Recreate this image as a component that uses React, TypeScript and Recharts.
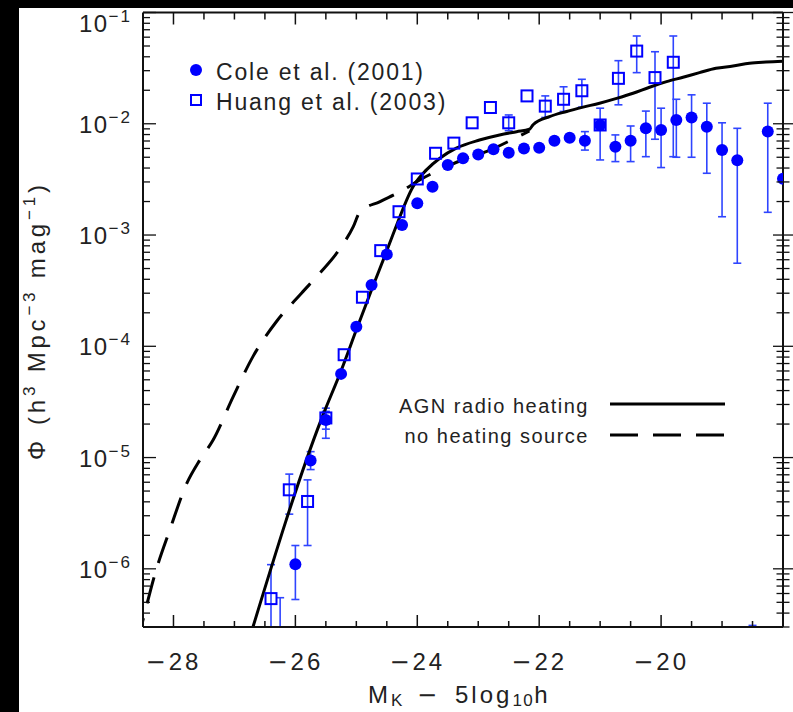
import React from 'react';
import { ComposedChart, XAxis, YAxis, Scatter, Line, ErrorBar } from 'recharts';

// ---------------- data ----------------
// Cole et al. (2001) – filled circles (null = no visible error bar)
const coleX = [-26.25, -26.0, -25.75, -25.5, -25.25, -25.0, -24.75, -24.5, -24.25, -24.0, -23.75, -23.5, -23.25, -23.0, -22.75, -22.5, -22.25, -22.0, -21.75, -21.5, -21.25, -21.0, -20.75, -20.5, -20.25, -20.0, -19.75, -19.5, -19.25, -19.0, -18.75, -18.5, -18.25, -18.0];
const coleY = [1.5e-7, 1.1e-6, 9.4e-6, 2.18e-5, 5.65e-5, 1.5e-4, 3.56e-4, 6.7e-4, 1.23e-3, 1.93e-3, 2.72e-3, 4.26e-3, 4.9e-3, 5.3e-3, 5.9e-3, 5.5e-3, 6.0e-3, 6.1e-3, 7.05e-3, 7.5e-3, 7.05e-3, 9.75e-3, 6.2e-3, 7.05e-3, 9.1e-3, 8.8e-3, 1.08e-2, 1.14e-2, 9.4e-3, 5.8e-3, 4.7e-3, 1.0e-7, 8.5e-3, 3.2e-3];
const coleLo = [1e-8, 5.3e-7, 7.8e-6, 1.8e-5, null, null, null, null, null, null, null, null, null, null, null, null, null, null, null, null, 5.8e-3, 4.73e-3, 4.57e-3, 4.57e-3, 5.06e-3, 4.04e-3, 5.0e-3, 5.0e-3, 3.59e-3, 1.46e-3, 5.58e-4, 1e-8, 1.6e-3, null];
const coleHi = [5.5e-7, 1.62e-6, 1.13e-5, 2.6e-5, null, null, null, null, null, null, null, null, null, null, null, null, null, null, null, null, 8.5e-3, 1.38e-2, 7.94e-3, 9.55e-3, 1.3e-2, 1.38e-2, 1.66e-2, 1.82e-2, 1.53e-2, 1.02e-2, 9.1e-3, 3.1e-7, 1.53e-2, null];

// Huang et al. (2003) – open squares
const huangX = [-26.4, -26.1, -25.8, -25.5, -25.2, -24.9, -24.6, -24.3, -24.0, -23.7, -23.4, -23.1, -22.8, -22.5, -22.2, -21.9, -21.6, -21.3, -21.0, -20.7, -20.4, -20.1, -19.8];
const huangY = [5.4e-7, 5.13e-6, 4.03e-6, 2.27e-5, 8.4e-5, 2.76e-4, 7.24e-4, 1.62e-3, 3.19e-3, 5.43e-3, 6.7e-3, 1.02e-2, 1.4e-2, 1.02e-2, 1.78e-2, 1.44e-2, 1.66e-2, 1.98e-2, 9.75e-3, 2.56e-2, 4.5e-2, 2.6e-2, 3.57e-2];
const huangLo = [1e-8, 3.1e-6, 1.62e-6, 1.49e-5, null, null, null, null, null, null, null, null, null, 8.67e-3, null, 1.14e-2, 1.29e-2, 1.41e-2, null, 1.48e-2, 2.88e-2, 7.26e-3, 5.06e-3];
const huangHi = [1.09e-6, 7.1e-6, 6.3e-6, 2.78e-5, null, null, null, null, null, null, null, null, null, 1.2e-2, null, 1.78e-2, 2.15e-2, 2.51e-2, null, 3.69e-2, 6.15e-2, 4.44e-2, 6.15e-2];

// AGN radio heating model (solid)
const agnX = [-26.75, -25.57, -25.25, -24.99, -24.72, -24.52, -24.37, -24.07, -23.85, -23.63, -23.36, -22.98, -22.65, -22.37, -22.16, -22.1, -21.83, -21.55, -21.28, -21.01, -20.73, -20.46, -20.19, -19.91, -19.64, -19.37, -19.1, -18.82, -18.55, -18.28, -18.0];
const agnY = [2.4e-7, 2.24e-5, 6.03e-5, 1.45e-4, 3.55e-4, 6.76e-4, 1.11e-3, 2.72e-3, 3.85e-3, 4.9e-3, 6.03e-3, 7.14e-3, 7.94e-3, 8.49e-3, 8.93e-3, 9.8e-3, 1.16e-2, 1.29e-2, 1.41e-2, 1.53e-2, 1.69e-2, 1.88e-2, 2.13e-2, 2.39e-2, 2.62e-2, 2.88e-2, 3.15e-2, 3.3e-2, 3.5e-2, 3.59e-2, 3.65e-2];

// no heating source model (dashed)
const noHeatX = [-28.6, -28.5, -28.3, -28.06, -27.78, -27.565, -27.35, -27.02, -26.69, -26.31, -25.9, -25.6, -25.32, -25.05, -24.94, -24.61, -24.23, -23.96, -23.58, -23.19, -22.87, -22.4, -22.16];
const noHeatY = [2.1e-7, 3.48e-7, 9.14e-7, 2.24e-6, 5.89e-6, 9.55e-6, 1.44e-5, 3.53e-5, 8.2e-5, 1.67e-4, 3.0e-4, 4.54e-4, 6.9e-4, 1.19e-3, 1.62e-3, 2.0e-3, 2.54e-3, 3.13e-3, 3.98e-3, 4.9e-3, 5.61e-3, 7.41e-3, 8.61e-3];

// ticks
const xTicks = [-28, -27.5, -27, -26.5, -26, -25.5, -25, -24.5, -24, -23.5, -23, -22.5, -22, -21.5, -21, -20.5, -20, -19.5, -19, -18.5];
const xMajorTicks = [-28, -26, -24, -22, -20];
const yDecades = [-7, -6, -5, -4, -3, -2, -1];
const yMajorExponents = ['\u22126', '\u22125', '\u22124', '\u22123', '\u22122', '\u22121'];
const yMajorTicks = [1e-6, 1e-5, 1e-4, 1e-3, 1e-2, 1e-1];
const yMultipliers = [1, 2, 3, 4, 5, 6, 7, 8, 9];

const X_DOMAIN: [number, number] = [-28.5, -18];
const Y_DOMAIN: [number, number] = [3e-7, 0.1];

// ---------------- helpers ----------------
type Pt = { x: number; y: number; err?: [number, number] };
const buildPoints = (xs: number[], ys: number[], lo: (number | null)[], hi: (number | null)[]) => {
  const withBars: Pt[] = [];
  const noBars: Pt[] = [];
  xs.forEach((x, i) => {
    const l = lo[i];
    const h = hi[i];
    if (l != null && h != null) {
      // error bars are cut at the bottom of the plot frame
      const lowEnd = Math.max(l, Y_DOMAIN[0]);
      withBars.push({ x, y: ys[i], err: [ys[i] - lowEnd, h - ys[i]] });
    } else noBars.push({ x, y: ys[i] });
  });
  return { withBars, noBars };
};
const cole = buildPoints(coleX, coleY, coleLo, coleHi);
const huang = buildPoints(huangX, huangY, huangLo, huangHi);
const agnData = agnX.map((x, i) => ({ x, y: agnY[i] }));
const noHeatData = noHeatX.map((x, i) => ({ x, y: noHeatY[i] }));

const yTicks: number[] = [];
yDecades.forEach((k) => {
  yMultipliers.forEach((m) => {
    const v = Number((m * Math.pow(10, k)).toPrecision(3));
    if (v >= Y_DOMAIN[0] && v <= Y_DOMAIN[1]) yTicks.push(v);
  });
});

const FONT = '"Liberation Sans", Arial, sans-serif';
const MINUS_FONT = '"DejaVu Sans", sans-serif';
const TEXT = '#222';
const AXIS = '#111';
const BLUE = '#0000ff';
const BAR_BLUE = '#2f45ff';

const isXMajor = (v: number) => xMajorTicks.some((t) => Math.abs(t - v) < 1e-9);
const yMajorIndex = (v: number) => yMajorTicks.findIndex((t) => Math.abs(t - v) / t < 1e-6);

const BottomTick = (props: any) => {
  const { x, y, payload } = props;
  const v = payload.value as number;
  const major = isXMajor(v);
  return (
    <g>
      <line x1={x} y1={y} x2={x} y2={y - (major ? 12 : 6)} stroke={AXIS} strokeWidth={1.5} />
      {major && (
        <text x={x} y={y + 43} textAnchor="middle" fontFamily={FONT} fontSize={24} fill={TEXT} letterSpacing={3}>
          <tspan fontFamily={MINUS_FONT}>{'\u2212'}</tspan>
          {String(Math.abs(v))}
        </text>
      )}
    </g>
  );
};

const TopTick = (props: any) => {
  const { x, y, payload } = props;
  const major = isXMajor(payload.value);
  return <line x1={x} y1={y} x2={x} y2={y + (major ? 12 : 7)} stroke={AXIS} strokeWidth={1.5} />;
};

const LeftTick = (props: any) => {
  const { x, y, payload } = props;
  const idx = yMajorIndex(payload.value);
  const major = idx >= 0;
  return (
    <g>
      <line x1={x} y1={y} x2={x + (major ? 13 : 7)} y2={y} stroke={AXIS} strokeWidth={1.3} />
      {major && (
        <text x={x - 11} y={Math.max(y + 9, 32)} textAnchor="end" fontFamily={FONT} fontSize={24} fill={TEXT} letterSpacing={1.5}>
          <tspan>10</tspan>
          <tspan dy={-10} fontSize={17} letterSpacing={2}>
            {yMajorExponents[idx]}
          </tspan>
        </text>
      )}
    </g>
  );
};

const RightTick = (props: any) => {
  const { x, y, payload } = props;
  const major = yMajorIndex(payload.value) >= 0;
  const h = major ? 10 : 6.5;
  return <line x1={x - h} y1={y} x2={x + h} y2={y} stroke={AXIS} strokeWidth={1.3} />;
};

const CircleShape = (p: any) => <circle cx={p.cx} cy={p.cy} r={6} fill={BLUE} />;
const SquareShape = (p: any) => (
  <rect x={p.cx - 5.5} y={p.cy - 5.5} width={11} height={11} fill="none" stroke={BLUE} strokeWidth={2} />
);

export default function App() {
  return (
    <div style={{ position: 'absolute', left: 0, top: 0, width: 793, height: 712, background: '#fff', overflow: 'hidden' }}>
      <ComposedChart width={793} height={712} margin={{ top: 8.5, right: 0, bottom: 45, left: 83 }}>
        <XAxis
          dataKey="x"
          type="number"
          domain={X_DOMAIN}
          allowDataOverflow
          ticks={xTicks}
          interval={0}
          height={40}
          tickSize={0}
          tickMargin={0}
          tickLine={false}
          axisLine={{ stroke: AXIS, strokeWidth: 2 }}
          tick={<BottomTick />}
        />
        <XAxis
          xAxisId="top"
          orientation="top"
          dataKey="x"
          type="number"
          domain={X_DOMAIN}
          allowDataOverflow
          ticks={xTicks}
          interval={0}
          height={4}
          tickSize={0}
          tickMargin={0}
          tickLine={false}
          axisLine={{ stroke: AXIS, strokeWidth: 2 }}
          tick={<TopTick />}
        />
        <YAxis
          dataKey="y"
          type="number"
          scale="log"
          domain={Y_DOMAIN}
          allowDataOverflow
          ticks={yTicks}
          interval={0}
          width={60}
          tickSize={0}
          tickMargin={0}
          tickLine={false}
          axisLine={{ stroke: AXIS, strokeWidth: 2 }}
          tick={<LeftTick />}
        />
        <YAxis
          yAxisId="right"
          orientation="right"
          type="number"
          scale="log"
          domain={Y_DOMAIN}
          allowDataOverflow
          ticks={yTicks}
          interval={0}
          width={10}
          tickSize={0}
          tickMargin={0}
          tickLine={false}
          axisLine={{ stroke: AXIS, strokeWidth: 2 }}
          tick={<RightTick />}
        />

        <Scatter data={cole.withBars} dataKey="y" shape={<CircleShape />} isAnimationActive={false}>
          <ErrorBar dataKey="err" direction="y" width={4} stroke={BAR_BLUE} strokeWidth={1.6} isAnimationActive={false} />
        </Scatter>
        <Scatter data={cole.noBars} dataKey="y" shape={<CircleShape />} isAnimationActive={false} />
        <Scatter data={huang.withBars} dataKey="y" shape={<SquareShape />} isAnimationActive={false}>
          <ErrorBar dataKey="err" direction="y" width={4} stroke={BAR_BLUE} strokeWidth={1.6} isAnimationActive={false} />
        </Scatter>
        <Scatter data={huang.noBars} dataKey="y" shape={<SquareShape />} isAnimationActive={false} />

        <Line data={noHeatData} dataKey="y" type="monotone" stroke="#000" strokeWidth={3} strokeDasharray="27 15" dot={false} activeDot={false} isAnimationActive={false} />
        <Line data={agnData} dataKey="y" type="monotone" stroke="#000" strokeWidth={3} dot={false} activeDot={false} isAnimationActive={false} />
      </ComposedChart>

      {/* titles and legends */}
      <svg width={793} height={712} style={{ position: 'absolute', left: 0, top: 0, pointerEvents: 'none' }}>
        <text y={703} fontFamily={FONT} fontSize={24} fill={TEXT} letterSpacing={3}>
          <tspan x={368}>M</tspan>
          <tspan fontSize={17} dy={3}>K</tspan>
          <tspan x={417} dy={-3} fontFamily={MINUS_FONT}>{'\u2212'}</tspan>
          <tspan x={455}>5log</tspan>
          <tspan fontSize={17} dy={3} letterSpacing={1.5}>10</tspan>
          <tspan dy={-3}>h</tspan>
        </text>

        <text transform="translate(45,460) rotate(-90)" fontFamily={FONT} fontSize={24} fill={TEXT} letterSpacing={3.8}>
          <tspan>{'\u03a6'}</tspan>
          <tspan dx={12}>(h</tspan>
          <tspan fontSize={17} dy={-10}>3</tspan>
          <tspan dy={10}> Mpc</tspan>
          <tspan fontSize={17} dy={-10}>{'\u22123'}</tspan>
          <tspan dy={10}> mag</tspan>
          <tspan fontSize={17} dy={-10}>{'\u22121'}</tspan>
          <tspan dy={10}>)</tspan>
        </text>

        <circle cx={196} cy={70} r={6} fill={BLUE} />
        <text x={216} y={80} fontFamily={FONT} fontSize={23} fill={TEXT} letterSpacing={1.8}>Cole et al. (2001)</text>
        <rect x={191} y={95} width={10} height={10} fill="none" stroke={BLUE} strokeWidth={2} />
        <text x={216} y={110} fontFamily={FONT} fontSize={23} fill={TEXT} letterSpacing={1.8}>Huang et al. (2003)</text>

        <text x={589} y={413} textAnchor="end" fontFamily={FONT} fontSize={20} fill={TEXT} letterSpacing={1.5}>AGN radio heating</text>
        <line x1={610} y1={404} x2={725} y2={404} stroke="#000" strokeWidth={3} />
        <text x={589} y={443} textAnchor="end" fontFamily={FONT} fontSize={20} fill={TEXT} letterSpacing={1.5}>no heating source</text>
        <line x1={610} y1={435} x2={725} y2={435} stroke="#000" strokeWidth={3} strokeDasharray="28 15" />
      </svg>

      <div style={{ position: 'absolute', left: 0, top: 0, width: 793, height: 8, background: '#000' }} />
      <div style={{ position: 'absolute', left: 0, top: 0, width: 19, height: 712, background: '#000' }} />
    </div>
  );
}
